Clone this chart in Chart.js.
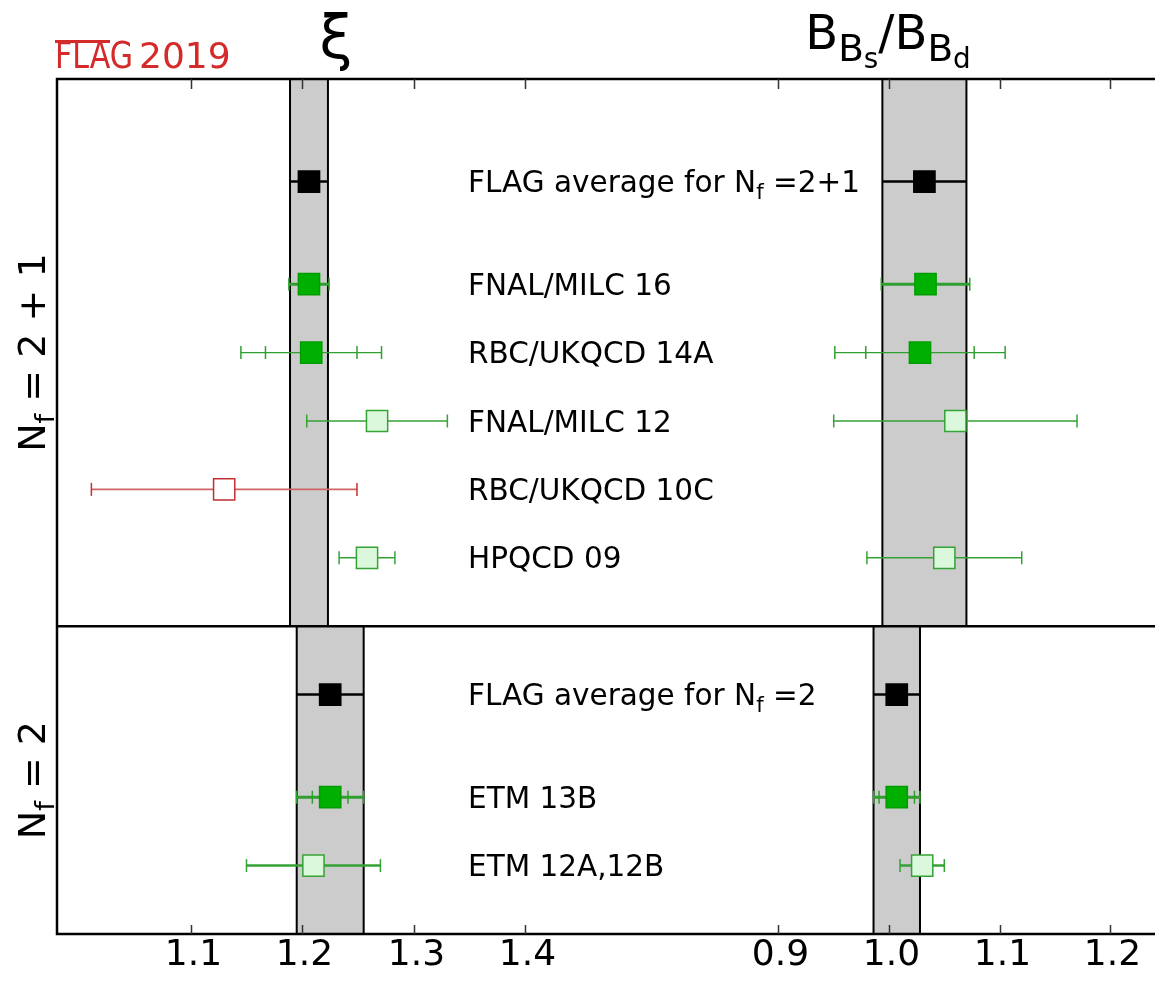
<!DOCTYPE html>
<html>
<head>
  <title>FLAG 2019 xi and B ratio</title>
  <script src="https://cdn.jsdelivr.net/npm/chart.js"></script>
  <style>
    body { margin: 0; background: #fff; overflow: hidden; }
  </style>
</head>
<body>
  <canvas id="flagChart" width="1155" height="983"></canvas>

  <script>
    // rows from top to bottom (y is a row index, panel split at 8)
    const rowLabels = ['FLAG average for N_f =2+1', 'FNAL/MILC 16', 'RBC/UKQCD 14A', 'FNAL/MILC 12',
      'RBC/UKQCD 10C', 'HPQCD 09', 'FLAG average for N_f =2', 'ETM 13B', 'ETM 12A,12B'];
    const rowPos = [1.5, 3, 4, 5, 6, 7, 9, 10.5, 11.5];
    const rowKind = ['avg', 'full', 'full', 'light', 'open', 'light', 'avg', 'full', 'light'];

    const xiValues = [1.206, 1.206, 1.208, 1.267, 1.130, 1.258, 1.225, 1.225, 1.210];
    const xiErrors = [0.017, 0.018, 0.063, 0.063, 0.119, 0.025, 0.030, 0.030, 0.060];
    const xiStatErrors = [null, null, 0.041, null, null, null, null, 0.016, null];

    const ratioValues = [1.032, 1.033, 1.028, 1.060, null, 1.050, 1.007, 1.007, 1.030];
    const ratioErrors = [0.038, 0.040, 0.077, 0.110, null, 0.070, 0.021, 0.021, 0.020];
    const ratioStatErrors = [null, null, 0.049, null, null, null, null, 0.016, null];

    const xiTicks = [1.1, 1.2, 1.3, 1.4];
    const ratioTicks = [0.9, 1.0, 1.1, 1.2];

    const panelEdges = [0, 8, 12.5];
    const panelTitles = ['N_f = 2 + 1', 'N_f = 2'];
    const panelAverage = [0, 6];

    // looks
    const styles = {
      avg: { fill: '#000000', edge: '#000000', bar: '#000000' },
      full: { fill: '#00b000', edge: '#009c00', bar: '#2f9f2f' },
      light: { fill: '#dcf8dc', edge: '#35a235', bar: '#35a235' },
      open: { fill: '#ffffff', edge: '#c03030', bar: '#d06464', cap: '#c03030' }
    };
    const barWidths = [2.5, 3, 1.4, 1.4, 1.6, 1.4, 2.5, 3, 2.5];
    const FONT = 'DejaVu Sans';

    const datasets = [];
    function addSeries(values, errors, statErrors, axis) {
      values.forEach((v, i) => {
        if (v === null) return;
        const st = styles[rowKind[i]];
        const y = rowPos[i];
        datasets.push({
          data: [{ x: v, y: y }],
          xAxisID: axis,
          pointStyle: 'rect',
          pointRadius: 15,
          pointBackgroundColor: st.fill,
          pointBorderColor: st.edge,
          pointBorderWidth: 1.5,
          order: 0
        });
        datasets.push({
          data: [{ x: v - errors[i], y: y }, { x: v + errors[i], y: y }],
          xAxisID: axis,
          showLine: true,
          borderColor: st.bar,
          borderWidth: barWidths[i],
          pointStyle: 'line',
          pointRotation: 90,
          pointRadius: rowKind[i] === 'avg' ? 0 : 6.5,
          pointBorderColor: st.cap || st.bar,
          pointBorderWidth: 1.5,
          order: 1
        });
        if (statErrors[i] !== null) {
          datasets.push({
            data: [{ x: v - statErrors[i], y: y }, { x: v + statErrors[i], y: y }],
            xAxisID: axis,
            showLine: false,
            pointStyle: 'line',
            pointRotation: 90,
            pointRadius: 6.5,
            pointBorderColor: st.bar,
            pointBorderWidth: 1.5,
            order: 1
          });
        }
      });
    }
    addSeries(xiValues, xiErrors, xiStatErrors, 'xl');
    addSeries(ratioValues, ratioErrors, ratioStatErrors, 'xr');

    // text with _x subscripts -> parts
    function parseSub(str) {
      const parts = [];
      let buf = '';
      for (let i = 0; i < str.length; i++) {
        if (str[i] === '_') {
          if (buf) parts.push([buf, 0]);
          buf = '';
          parts.push([str[i + 1], 1]);
          i++;
        } else {
          buf += str[i];
        }
      }
      if (buf) parts.push([buf, 0]);
      return parts;
    }

    function drawRich(ctx, parts, x, y, size, align, scale) {
      scale = scale || [1, 0.72, 0.55];
      const drop = [0, 0.24, 0.40];
      const widths = parts.map(([t, l]) => {
        ctx.font = `${size * scale[l]}px ${FONT}`;
        return ctx.measureText(t).width;
      });
      const total = widths.reduce((a, b) => a + b, 0);
      let cx = align === 'center' ? x - total / 2 : x;
      ctx.textAlign = 'left';
      ctx.textBaseline = 'alphabetic';
      parts.forEach(([t, l], i) => {
        ctx.font = `${size * scale[l]}px ${FONT}`;
        ctx.fillText(t, cx, y + drop[l] * size);
        cx += widths[i];
      });
    }

    const bandPlugin = {
      id: 'bands',
      beforeDatasetsDraw(chart) {
        const { ctx } = chart;
        const ys = chart.scales.y;
        const pairs = [['xl', xiValues, xiErrors], ['xr', ratioValues, ratioErrors]];
        ctx.save();
        panelAverage.forEach((row, p) => {
          const top = ys.getPixelForValue(panelEdges[p]);
          const bottom = ys.getPixelForValue(panelEdges[p + 1]);
          pairs.forEach(([axis, vals, errs]) => {
            const sc = chart.scales[axis];
            const x0 = sc.getPixelForValue(vals[row] - errs[row]);
            const x1 = sc.getPixelForValue(vals[row] + errs[row]);
            ctx.fillStyle = '#cccccc';
            ctx.fillRect(x0, top, x1 - x0, bottom - top);
            ctx.strokeStyle = '#000';
            ctx.lineWidth = 2;
            ctx.beginPath();
            ctx.moveTo(x0, top); ctx.lineTo(x0, bottom);
            ctx.moveTo(x1, top); ctx.lineTo(x1, bottom);
            ctx.stroke();
          });
        });
        ctx.restore();
      }
    };

    const framePlugin = {
      id: 'frame',
      afterDraw(chart) {
        const { ctx, chartArea: a } = chart;
        const ys = chart.scales.y;
        ctx.save();
        // frame and panel divider
        ctx.strokeStyle = '#000';
        ctx.lineWidth = 2.5;
        ctx.beginPath();
        ctx.moveTo(a.right + 2, a.top); ctx.lineTo(a.left, a.top);
        ctx.lineTo(a.left, a.bottom); ctx.lineTo(a.right + 2, a.bottom);
        const mid = ys.getPixelForValue(panelEdges[1]);
        ctx.moveTo(a.left, mid); ctx.lineTo(a.right + 2, mid);
        ctx.stroke();

        // inward tick marks top and bottom, labels below
        ctx.lineWidth = 1.5;
        [['xl', xiTicks], ['xr', ratioTicks]].forEach(([axis, ticks]) => {
          ticks.forEach(t => {
            const px = Math.round(chart.scales[axis].getPixelForValue(t)) + 0.5;
            ctx.strokeStyle = '#333';
            ctx.beginPath();
            ctx.moveTo(px, a.top); ctx.lineTo(px, a.top + 10);
            ctx.moveTo(px, a.bottom); ctx.lineTo(px, a.bottom - 9);
            ctx.stroke();
            ctx.fillStyle = '#000';
            ctx.font = `36px ${FONT}`;
            ctx.textAlign = 'center';
            ctx.textBaseline = 'top';
            ctx.fillText(t.toFixed(1), px + 2, a.bottom + 4);
          });
        });

        // row labels
        ctx.fillStyle = '#000';
        rowLabels.forEach((lab, i) => {
          drawRich(ctx, parseSub(lab), 468, ys.getPixelForValue(rowPos[i]) + 10.5, 29.5, 'left');
        });

        // panel titles, rotated
        panelTitles.forEach((t, p) => {
          const cy = (ys.getPixelForValue(panelEdges[p]) + ys.getPixelForValue(panelEdges[p + 1])) / 2;
          ctx.save();
          ctx.translate(32, cy);
          ctx.rotate(-Math.PI / 2);
          drawRich(ctx, parseSub(t), 0, 13, 38, 'center');
          ctx.restore();
        });

        // quantity titles
        ctx.font = `60px ${FONT}`;
        ctx.textAlign = 'center';
        ctx.textBaseline = 'alphabetic';
        ctx.fillText('ξ', 336, 58);
        drawRich(ctx, [['B', 0], ['B', 1], ['s', 2], ['/', 0], ['B', 0], ['B', 1], ['d', 2]], 888, 49, 48, 'center', [1, 0.78, 0.58]);

        // FLAG logo
        ctx.fillStyle = '#d42a2a';
        ctx.strokeStyle = '#d42a2a';
        ctx.font = `37px ${FONT}`;
        ctx.textAlign = 'left';
        const wFlag = ctx.measureText('FLAG').width;
        ctx.save();
        ctx.translate(55, 68);
        ctx.scale(78 / wFlag, 1);
        ctx.fillText('FLAG', 0, 0);
        ctx.restore();
        ctx.font = `36px ${FONT}`;
        ctx.fillText('2019', 139, 68);
        ctx.lineWidth = 3;
        ctx.beginPath();
        ctx.moveTo(55, 41.5); ctx.lineTo(110, 41.5);
        ctx.stroke();
        ctx.restore();
      }
    };

    const ctx = document.getElementById('flagChart').getContext('2d');
    new Chart(ctx, {
      type: 'scatter',
      data: { datasets: datasets },
      plugins: [bandPlugin, framePlugin],
      options: {
        responsive: false,
        animation: false,
        devicePixelRatio: 1,
        events: [],
        layout: { autoPadding: false, padding: { top: 79, bottom: 49, left: 57, right: 0 } },
        plugins: { legend: { display: false }, tooltip: { enabled: false } },
        scales: {
          xl: { type: 'linear', display: false, min: 0.9802, max: 1.9641 },
          xr: { type: 'linear', display: false, min: 0.2477, max: 1.2405 },
          y: { type: 'linear', display: false, reverse: true, min: 0, max: 12.5 }
        }
      }
    });
  </script>
</body>
</html>
